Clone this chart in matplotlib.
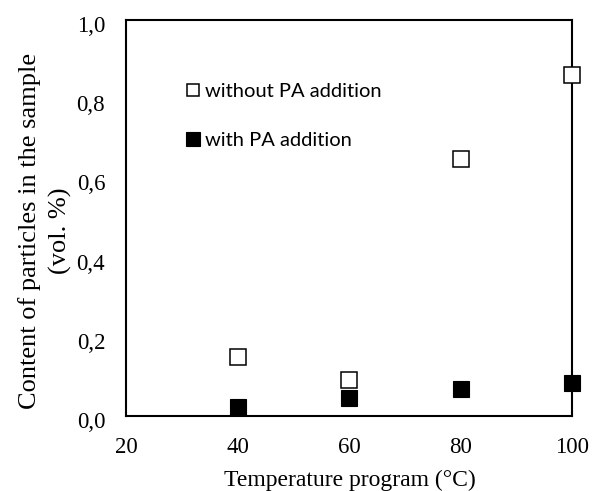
import matplotlib.pyplot as plt
import matplotlib.transforms as mtransforms
from matplotlib.ticker import FuncFormatter

# temperature program (degC) and particle content (vol. %)
temps = [40, 60, 80, 100]
without_pa = [0.150, 0.092, 0.649, 0.861]
with_pa = [0.022, 0.045, 0.068, 0.084]

x_ticks = [20, 40, 60, 80, 100]
y_ticks = [0, 0.2, 0.4, 0.6, 0.8, 1.0]

plt.rcParams['font.family'] = 'Liberation Serif'

fig = plt.figure(figsize=(6.02, 4.91), dpi=100)
ax = fig.add_axes([126 / 602, (491 - 416) / 491, 446 / 602, 396 / 491])

ax.plot(temps, without_pa, linestyle="none", marker="s", markersize=11,
        markerfacecolor="white", markeredgecolor="black", markeredgewidth=1.1,
        label="without PA addition", clip_on=False, zorder=3)
ax.plot(temps, with_pa, linestyle="none", marker="s", markersize=12,
        markerfacecolor="black", markeredgecolor="black", markeredgewidth=0.8,
        label="with PA addition", clip_on=False, zorder=3)

ax.set_xlim(20, 100)
ax.set_ylim(0, 1.0)
ax.set_xticks(x_ticks)
ax.set_yticks(y_ticks)
ax.yaxis.set_major_formatter(FuncFormatter(lambda v, p: f"{v:.1f}".replace(".", ",")))
ax.tick_params(length=0, labelsize=16.5)
ax.tick_params(axis="x", pad=15)
ax.tick_params(axis="y", pad=15)
for s in ax.spines.values():
    s.set_linewidth(1.5)

# y tick labels sit a bit below their gridline positions in the original
shift = mtransforms.ScaledTranslation(0, -4 / 100, fig.dpi_scale_trans)
for lab in ax.get_yticklabels():
    lab.set_transform(lab.get_transform() + shift)

fig.text(350 / 602, 1 - 480 / 491, "Temperature program (°C)", fontsize=17,
         ha="center", va="center")
fig.text(45 / 602, 1 - 231 / 491, "Content of particles in the sample\n(vol. %)",
         fontsize=19, rotation=90, ha="center", va="center",
         multialignment="center", linespacing=1.4)

ax.legend(loc="center left", bbox_to_anchor=(57 / 446, (416 - 116) / 396),
          frameon=False, prop={"family": "Lato", "size": 14.5},
          handletextpad=0.1, labelspacing=1.55, markerscale=0.8,
          handlelength=1.0, borderaxespad=0, borderpad=0)

plt.savefig("out.png", dpi=100)
